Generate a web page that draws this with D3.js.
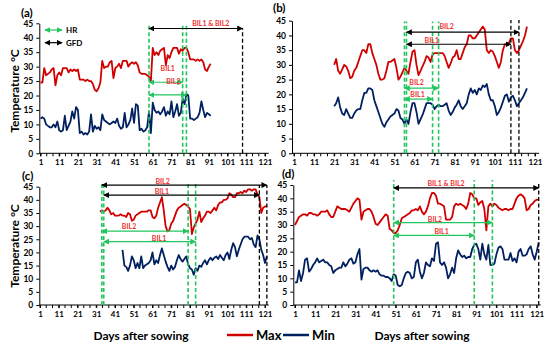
<!DOCTYPE html>
<html>
<head>
<meta charset="utf-8">
<script src="https://d3js.org/d3.v7.min.js"></script>
<style>
  body { margin: 0; background: #fff; }
  svg { font-family: Lato, "Open Sans", sans-serif; font-weight: bold; }
</style>
</head>
<body>
<svg width="550" height="348"></svg>
<script>
// ---- data ----
const dayTicks = d3.range(1, 122, 10);
const tempTicks = d3.range(0, 46, 5);

// (a)
const startMaxA = 1, startMinA = 1;
const maxA = [24.5,24.5,29.5,27,27.5,28,29,29.5,23.5,27,
  28,27,29.5,29.5,29.5,28,29,28.5,29,28.5,
  29,25.5,25.5,25.5,25,25.5,25,25,24,22,
  21.5,22.5,24.5,32,29.5,30,30,31.5,32,26,
  29.5,30,31,29.5,32,32,32,30,31,31.5,
  31,31.5,30.5,28,27.5,27.5,27.5,27,26.5,25,
  36.5,34,35,34,35.5,36,36.5,30.5,34,33,
  35,36.5,36.5,36.5,34.5,36,35.5,36.5,36.5,35,
  32.5,32.5,32.5,32,32.5,32,32.5,31.5,29,28.5,
  30,31];
const minA = [12,12.5,12,10,9.5,9,9,10,9,11,
  8,7.5,8,13,8,9.5,11,14.5,12,16,
  15,7,7.5,6.5,7,6.5,7.5,13.5,7.5,9.5,
  8.5,9,8,13.5,11.5,11,10.5,10,10.5,11,
  10.5,12,9.5,8.5,9,14,9,10,11.5,15.5,
  10.5,17,16.5,8,8.5,7.5,8,9,14.5,7,
  17.5,15,14,14.5,13.5,14.5,16,13,14.5,13.5,
  18,12.5,14.5,17,13,14,19,17,20.5,20,
  12,12,11.5,12,12.5,14,18,15,12.5,14,
  13.5,13];

// (b)
const startMaxB = 21, startMinB = 21;
const maxB = [30,32,28,27,28.5,30,29.5,28,25.5,26,
  28,29,31,33,35,35,34,37,37,34,
  32,30,27,25,25,25.5,28,31,31,31.5,
  32,29,25,26,27.5,29,28,27,31,34.5,
  35,30,26.5,28,29.5,31,33,32.5,31,33.5,
  34,34,34,34,34,33,31,29,30.5,32.5,
  33,35,32,32,34,36,37,40,40,39,
  39,40,41,42,43,42,35,34,35,34.5,
  33,31,29,31,35,37,37,37.5,39,39,
  35,34,35,36.5,38,40,43];
const minB = [16,17,19,15.5,13.5,13,15,13.5,12,12,
  13.5,14.5,15,15,18,20.5,20.5,22,22,21.5,
  18,16,14,12,10,9,10.5,11.5,12.5,13,
  13.5,15,14.5,12,11.5,10,11.5,10,14,17,
  17,14,10,11.5,13,15,17,17,17,16.5,
  15,16,16.5,16,16,16.5,17,14.5,13,14,
  15.5,16.5,18,16,15,16,17,20,22,20.5,
  21.5,20,22,21.5,23,22.5,23.5,20,18,18,
  16,13,14,15.5,17.5,19.5,20,17.5,19,19.5,
  18,16,17,18,19,20.5,22];

// (c)
const startMaxC = 33, startMinC = 45;
const maxC = [35.5,36,35.5,36,37,36,34.5,35,34,34,
  34,34.5,34,34,33.5,35,34.5,32,32.5,34,
  34.5,35,35.5,35.5,35.5,35.5,36,36,33.5,33,
  34,37,39,41,36,30,28,28.5,31,32,
  34,36,37,37.5,38,38.5,38,37.5,36.5,27,
  29.5,31,32.5,35.5,31.5,33,34,35.5,35.5,35,
  36,37,36,38,39,39,40,40,40.5,42.5,
  42,41,41,42.5,42.5,43,42.5,43.5,43,44,
  44,43.5,44,44,42,41,35,37,37.5,37.5];
const minC = [21,15,14.5,13,15,18.5,17,14,16,14,
  18.5,14,15,15.5,16,17,20,15.5,17,16,
  19,21.5,19,16.5,14.5,13,15,13.5,14.5,17,
  19,17.5,16.5,17.5,18.5,15.5,14,13.5,11.5,14,
  13,15,14.5,16,17,15.5,17,18,17,18,
  18.5,17.5,19,18,17,19,20,17.5,21,23.5,
  22,18.5,21,23,25,26,26,26,25,25.5,
  23,22,26.5,25,21,19,16,18.5];

// (d)
const startMaxD = 1, startMinD = 1;
const maxD = [30,31.5,33,33.5,34,34,33.5,34.5,34.5,34,
  34,33.5,34,35,35,35,35.5,34,33,33,
  35,37,36.5,36,36,36,35.5,35,36.5,38,
  39,40,39.5,32,35,35.5,36,36,35,33,
  30.5,30,31,32,33,34,33.5,28.5,28,27,
  27,28,30,32.5,33,33.5,34,34.5,35.5,35.5,
  36,35.5,37,35,34,35,37,40,42,42,
  41,38,38,37.5,37,32,32,32,33,37,
  38,37.5,38,37.5,37,36,38,42,41.5,40,
  40,37.5,38.5,39,36,28,37,38,37,38,
  37.5,36.5,36,35.5,36,36,35.5,36,36,38,
  40,41,41.5,41,40,35.5,36,37.5,38,39,
  39.5,39.5];
const minD = [8.5,8.5,13,9,12,17,17.5,12.5,13.5,15,
  16,17.5,16,16.5,17,16,16,15,14.5,12,
  13,13.5,14,14,16,14.5,15.5,17,17.5,15.5,
  16,19,21,9.5,13.5,14,14,13,12.5,13,
  12.5,13,11.5,11,11,10.5,10.5,10,9,11.5,
  11,7.5,7,7.5,10,12,12.5,12,10,10.5,
  16,17,12.5,10,12,16,15,14.5,17.5,16.5,
  23,23.5,16,15,16,14,10,11.5,14,12,
  17.5,20.5,19,18,18.5,17.5,18,18,21,22.5,
  23,21,17,23,19,17,22.5,15,15,15.5,
  19,21.5,22,21,17,17,17,19.5,16.5,17.5,
  16,20,21,18.5,18.5,19,21,22,19,17,
  20,23.5];

// annotation days (dashed lines) and arrows: [from, to, temp, kind, label, labelDay, labelTemp]
const greenDaysA = [59, 77, 79], blackDaysA = [109];
const arrowsA = [[59,109,43.2,"k","BIL1 & BIL2",92,44.8],[59,77,24.6,"g","BIL1",69,29.5],[59,79,20.2,"g","BIL2",72,25]];
const greenDaysB = [56, 57, 70, 73], blackDaysB = [109, 113];
const arrowsB = [[57,113,41.1,"k","BIL2",77,42.9],[57,109,37,"k","BIL1",69.6,38.4],[56,73,22.1,"g","BIL2",62,23.9],[56,70,18.4,"g","BIL1",62.5,19.8]];
const greenDaysC = [34, 35, 80, 84], blackDaysC = [118, 122];
const arrowsC = [[34,122,45.6,"k","BIL2",66.4,46.8],[35,118,41.8,"k","BIL1",66,43.1],[34,80,28.1,"g","BIL2",48.5,29.8],[35,84,24.1,"g","BIL1",64.5,25.4]];
const greenDaysD = [50, 90, 99], blackDaysD = [122];
const arrowsD = [[50,122,43.9,"k","BIL1 & BIL2",76,45.4],[50,99,30.9,"g","BIL2",70.5,32.2],[50,90,26.1,"g","BIL1",73.8,27.7]];

// ---- style ----
const RED = "#d00000", NAVY = "#002060", GREEN = "#22c55e", LABEL_RED = "#f03030";
const svg = d3.select("svg");

const defs = svg.append("defs");
[["g", GREEN], ["k", "#000"]].forEach(([k, c]) => {
  defs.append("marker").attr("id", "arr-" + k)
    .attr("viewBox", "0 0 10 10").attr("refX", 9).attr("refY", 5)
    .attr("markerWidth", 5).attr("markerHeight", 5)
    .attr("orient", "auto-start-reverse")
    .append("path").attr("d", "M0,0L10,5L0,10z").attr("fill", c);
});

const panels = [
  {tag: "(a)", tx: 21, ty: 17, maxS: startMaxA, max: maxA, minS: startMinA, min: minA,
   x1: 40.5, x121: 265, y0: 153.3, y45: 23.3, ax: 39.3, gd: greenDaysA, bd: blackDaysA, arr: arrowsA,
   gTop: 44.4, bTop: 43.4},
  {tag: "(b)", tx: 273, ty: 12, maxS: startMaxB, max: maxB, minS: startMinB, min: minB,
   x1: 294, x121: 535, y0: 153.3, y45: 20.7, ax: 292, gd: greenDaysB, bd: blackDaysB, arr: arrowsB,
   gTop: 44.7, bTop: 45.2},
  {tag: "(c)", tx: 22, ty: 180, maxS: startMaxC, max: maxC, minS: startMinC, min: minC,
   x1: 40, x121: 265, y0: 305, y45: 186.7, ax: 39.3, gd: greenDaysC, bd: blackDaysC, arr: arrowsC,
   gTop: 46.3, bTop: 45.6},
  {tag: "(d)", tx: 282, ty: 177.5, maxS: startMaxD, max: maxD, minS: startMinD, min: minD,
   x1: 295, x121: 536.7, y0: 305, y45: 185, ax: 293.3, gd: greenDaysD, bd: blackDaysD, arr: arrowsD,
   gTop: 46.9, bTop: 45.7}
];

panels.forEach(p => {
  const x = d3.scaleLinear().domain([1, 121]).range([p.x1, p.x121]);
  const y = d3.scaleLinear().domain([0, 45]).range([p.y0, p.y45]);
  const g = svg.append("g");

  // y axis
  const ya = g.append("g").attr("transform", "translate(" + p.ax + ",0)")
    .call(d3.axisLeft(y).tickValues(tempTicks).tickSize(3).tickSizeOuter(0).tickPadding(3));
  ya.selectAll("text").attr("font-size", 8.5).attr("font-family", "Lato, sans-serif").attr("font-weight", "bold");

  // x axis
  const xa = g.append("g").attr("transform", "translate(0," + p.y0 + ")")
    .call(d3.axisBottom(x).tickValues(dayTicks).tickSize(3).tickPadding(3).tickFormat(d3.format("d")));
  xa.select(".domain").remove();
  xa.selectAll("text").attr("font-size", 8).attr("font-family", "Lato, sans-serif").attr("font-weight", "bold");
  xa.append("line").attr("x1", p.ax).attr("x2", x(123)).attr("stroke", "#000");
  xa.selectAll(".minor").data(d3.range(1, 122, 10 / 3)).enter().append("line")
    .attr("x1", d => x(d)).attr("x2", d => x(d)).attr("y1", 0).attr("y2", 3).attr("stroke", "#000");

  // series
  const line = start => d3.line().x((d, i) => x(start + i)).y(d => y(d));
  g.append("path").datum(p.max).attr("d", line(p.maxS)).attr("fill", "none")
    .attr("stroke", RED).attr("stroke-width", 1.8).attr("stroke-linejoin", "round");
  g.append("path").datum(p.min).attr("d", line(p.minS)).attr("fill", "none")
    .attr("stroke", NAVY).attr("stroke-width", 1.8).attr("stroke-linejoin", "round");

  // dashed markers
  g.selectAll(".gd").data(p.gd).enter().append("line")
    .attr("x1", d => x(d)).attr("x2", d => x(d)).attr("y1", y(0)).attr("y2", y(p.gTop))
    .attr("stroke", GREEN).attr("stroke-width", 1.6).attr("stroke-dasharray", "4,2.5");
  g.selectAll(".bd").data(p.bd).enter().append("line")
    .attr("x1", d => x(d)).attr("x2", d => x(d)).attr("y1", y(0)).attr("y2", y(p.bTop))
    .attr("stroke", "#000").attr("stroke-width", 1.3).attr("stroke-dasharray", "4,2.5");

  // arrows + labels
  p.arr.forEach(a => {
    g.append("line").attr("x1", x(a[0])).attr("x2", x(a[1])).attr("y1", y(a[2])).attr("y2", y(a[2]))
      .attr("stroke", a[3] === "g" ? GREEN : "#000").attr("stroke-width", 1.2)
      .attr("marker-start", "url(#arr-" + a[3] + ")").attr("marker-end", "url(#arr-" + a[3] + ")");
    g.append("text").attr("x", x(a[5])).attr("y", y(a[6])).attr("dy", "0.35em")
      .attr("text-anchor", "middle").attr("font-size", 7).attr("fill", LABEL_RED).text(a[4]);
  });

  g.append("text").attr("x", p.tx).attr("y", p.ty).attr("font-size", 11.5).text(p.tag);
});

// y titles
[[15, 91], [15, 246]].forEach(([tx, ty]) => {
  svg.append("text").attr("transform", "translate(" + tx + "," + ty + ") rotate(-90)")
    .attr("text-anchor", "middle").attr("dy", "0.35em").attr("font-size", 12).text("Temperature °C");
});

// x titles
[[141, 336], [422, 336]].forEach(([tx, ty]) => {
  svg.append("text").attr("x", tx).attr("y", ty).attr("text-anchor", "middle")
    .attr("dy", "0.35em").attr("font-size", 12).text("Days after sowing");
});

// HR / GFD legend
[[GREEN, "g", "HR", 30], [ "#000", "k", "GFD", 42.7]].forEach(([c, k, t, ly]) => {
  svg.append("line").attr("x1", 45).attr("x2", 62).attr("y1", ly).attr("y2", ly)
    .attr("stroke", c).attr("stroke-width", 1.2)
    .attr("marker-start", "url(#arr-" + k + ")").attr("marker-end", "url(#arr-" + k + ")");
  svg.append("text").attr("x", 66).attr("y", ly).attr("dy", "0.35em").attr("font-size", 8).text(t);
});

// Max / Min legend
[[RED, "Max", 227], [NAVY, "Min", 283]].forEach(([c, t, lx]) => {
  svg.append("line").attr("x1", lx).attr("x2", lx + 26).attr("y1", 335).attr("y2", 335)
    .attr("stroke", c).attr("stroke-width", 2.5);
  svg.append("text").attr("x", lx + 29).attr("y", 335).attr("dy", "0.35em").attr("font-size", 13).text(t);
});
</script>
</body>
</html>
